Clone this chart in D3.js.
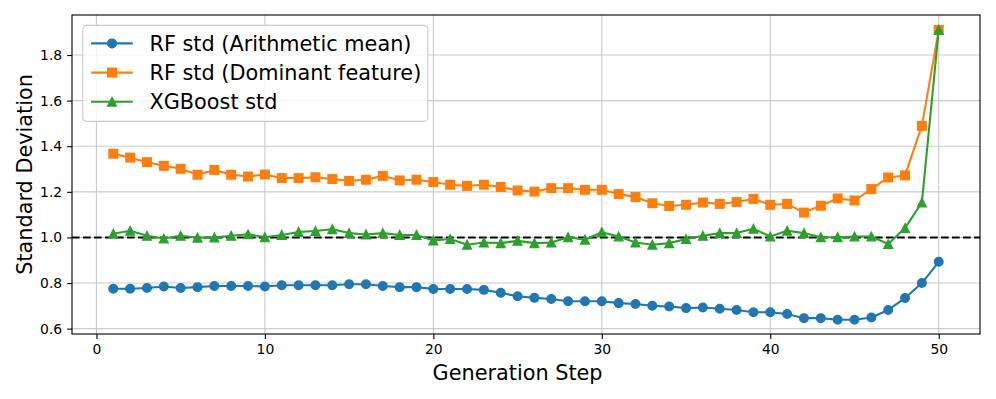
<!DOCTYPE html>
<html>
<head>
<meta charset="utf-8">
<script src="https://cdn.jsdelivr.net/npm/d3@7"></script>
<style>
  body { margin: 0; background: #fff; }
  svg { font-family: "DejaVu Sans", sans-serif; }
</style>
</head>
<body>
<svg id="chart"></svg>
<script>
var steps = d3.range(1, 51);

var rfMean = [0.775, 0.775, 0.778, 0.785, 0.778, 0.782, 0.787, 0.787, 0.787, 0.785,
              0.790, 0.790, 0.790, 0.790, 0.795, 0.795, 0.787, 0.782, 0.782, 0.774,
              0.774, 0.774, 0.770, 0.757, 0.742, 0.735, 0.730, 0.720, 0.720, 0.720,
              0.712, 0.708, 0.700, 0.697, 0.690, 0.693, 0.687, 0.682, 0.672, 0.672,
              0.664, 0.646, 0.646, 0.639, 0.639, 0.649, 0.682, 0.734, 0.800, 0.893];

var rfDominant = [1.367, 1.350, 1.330, 1.314, 1.301, 1.275, 1.296, 1.275, 1.267, 1.276,
                  1.260, 1.260, 1.264, 1.256, 1.248, 1.253, 1.270, 1.250, 1.253, 1.243,
                  1.231, 1.226, 1.231, 1.221, 1.206, 1.201, 1.216, 1.216, 1.209, 1.209,
                  1.190, 1.177, 1.150, 1.138, 1.143, 1.153, 1.147, 1.155, 1.169, 1.143,
                  1.147, 1.109, 1.139, 1.171, 1.162, 1.212, 1.263, 1.272, 1.489, 1.910];

var xgbStd = [1.016, 1.029, 1.007, 0.995, 1.007, 0.999, 1.000, 1.007, 1.014, 1.001,
              1.011, 1.024, 1.028, 1.036, 1.019, 1.013, 1.019, 1.011, 1.011, 0.987,
              0.993, 0.968, 0.978, 0.975, 0.985, 0.975, 0.978, 1.001, 0.990, 1.023,
              1.004, 0.978, 0.968, 0.975, 0.993, 1.007, 1.019, 1.019, 1.038, 1.004,
              1.029, 1.019, 1.001, 1.001, 1.004, 1.004, 0.971, 1.041, 1.153, 1.910];

var seriesNames = ["RF std (Arithmetic mean)", "RF std (Dominant feature)", "XGBoost std"];
var seriesColors = ["#1f77b4", "#ff7f0e", "#2ca02c"];
var seriesShapes = ["circle", "square", "triangle"];
var xTicks = [0, 10, 20, 30, 40, 50];
var yTicks = [0.6, 0.8, 1.0, 1.2, 1.4, 1.6, 1.8];
var refLine = 1.0;

var width = 996, height = 399;
var margin = {top: 15, right: 16, bottom: 65, left: 72};
var innerW = width - margin.left - margin.right;
var innerH = height - margin.top - margin.bottom;

var svg = d3.select('#chart').attr('width', width).attr('height', height);
var g = svg.append('g').attr('transform', 'translate(' + margin.left + ',' + margin.top + ')');

var xScale = d3.scaleLinear().domain([-1.45, 52.45]).range([0, innerW]);
var yScale = d3.scaleLinear().domain([0.5765, 1.9755]).range([innerH, 0]);

// grid
g.append('g').selectAll('line').data(xTicks).enter().append('line')
  .attr('x1', function(d){ return xScale(d); }).attr('x2', function(d){ return xScale(d); })
  .attr('y1', 0).attr('y2', innerH)
  .attr('stroke', '#cbcbcb').attr('stroke-width', 1.1);
g.append('g').selectAll('line').data(yTicks).enter().append('line')
  .attr('y1', function(d){ return yScale(d); }).attr('y2', function(d){ return yScale(d); })
  .attr('x1', 0).attr('x2', innerW)
  .attr('stroke', '#cbcbcb').attr('stroke-width', 1.1);

// axes
var xAxis = d3.axisBottom(xScale).tickValues(xTicks).tickSize(4.9).tickPadding(4.9);
var yAxis = d3.axisLeft(yScale).tickValues(yTicks).tickSize(4.9).tickPadding(4.9)
  .tickFormat(d3.format('.1f'));

var gx = g.append('g').attr('transform', 'translate(0,' + innerH + ')').call(xAxis);
var gy = g.append('g').call(yAxis);
[gx, gy].forEach(function(a){
  a.select('.domain').remove();
  a.selectAll('.tick line').attr('stroke', '#000').attr('stroke-width', 1.1);
  a.selectAll('.tick text').attr('fill', '#000').style('font-size', '13.9px')
    .style('font-family', '"DejaVu Sans", sans-serif');
});

// reference line
g.append('line')
  .attr('x1', 0).attr('x2', innerW)
  .attr('y1', yScale(refLine)).attr('y2', yScale(refLine))
  .attr('stroke', '#000').attr('stroke-width', 2.08)
  .attr('stroke-dasharray', '7.7,3.3');

var allData = [rfMean, rfDominant, xgbStd];

function drawMarker(sel, shape, color) {
  var s = 8.6;
  if (shape === 'circle') {
    sel.append('circle').attr('r', s / 2);
  } else if (shape === 'square') {
    sel.append('rect').attr('x', -s / 2).attr('y', -s / 2).attr('width', s).attr('height', s);
  } else {
    sel.append('path').attr('d', 'M0,' + (-s / 2) + 'L' + (s / 2) + ',' + (s / 2) + 'L' + (-s / 2) + ',' + (s / 2) + 'Z');
  }
  sel.selectAll('*').attr('fill', color).attr('stroke', color).attr('stroke-width', 1.39)
    .attr('stroke-linejoin', 'miter');
}

var line = d3.line()
  .x(function(d, i){ return xScale(steps[i]); })
  .y(function(d){ return yScale(d); });

allData.forEach(function(vals, k){
  var sg = g.append('g');
  sg.append('path')
    .attr('d', line(vals))
    .attr('fill', 'none')
    .attr('stroke', seriesColors[k])
    .attr('stroke-width', 2.08)
    .attr('stroke-linejoin', 'round');
  sg.selectAll('g.pt').data(vals).enter().append('g')
    .attr('class', 'pt')
    .attr('transform', function(d, i){ return 'translate(' + xScale(steps[i]) + ',' + yScale(d) + ')'; })
    .each(function(){ drawMarker(d3.select(this), seriesShapes[k], seriesColors[k]); });
});

// frame
g.append('rect').attr('width', innerW).attr('height', innerH)
  .attr('fill', 'none').attr('stroke', '#000').attr('stroke-width', 1.1);

// legend
var lg = g.append('g').attr('transform', 'translate(10.8,10.4)');
lg.append('rect').attr('width', 345).attr('height', 96).attr('rx', 4)
  .attr('fill', '#fff').attr('fill-opacity', 0.8)
  .attr('stroke', '#cccccc').attr('stroke-width', 1.1);
seriesNames.forEach(function(name, k){
  var yy = 18 + k * 29.2;
  lg.append('line').attr('x1', 8.3).attr('x2', 50).attr('y1', yy).attr('y2', yy)
    .attr('stroke', seriesColors[k]).attr('stroke-width', 2.08);
  var m = lg.append('g').attr('transform', 'translate(29.2,' + yy + ')');
  drawMarker(m, seriesShapes[k], seriesColors[k]);
  lg.append('text').attr('x', 66.7).attr('y', yy).attr('dy', '0.36em')
    .style('font-size', '20.8px').attr('fill', '#000').text(name);
});

// axis labels
svg.append('text')
  .attr('x', margin.left + xScale(25)).attr('y', 380)
  .attr('text-anchor', 'middle').style('font-size', '20.8px').text('Generation Step');
svg.append('text')
  .attr('transform', 'translate(32,' + (margin.top + innerH / 2) + ') rotate(-90)')
  .attr('text-anchor', 'middle').style('font-size', '20.8px').text('Standard Deviation');
</script>
</body>
</html>
